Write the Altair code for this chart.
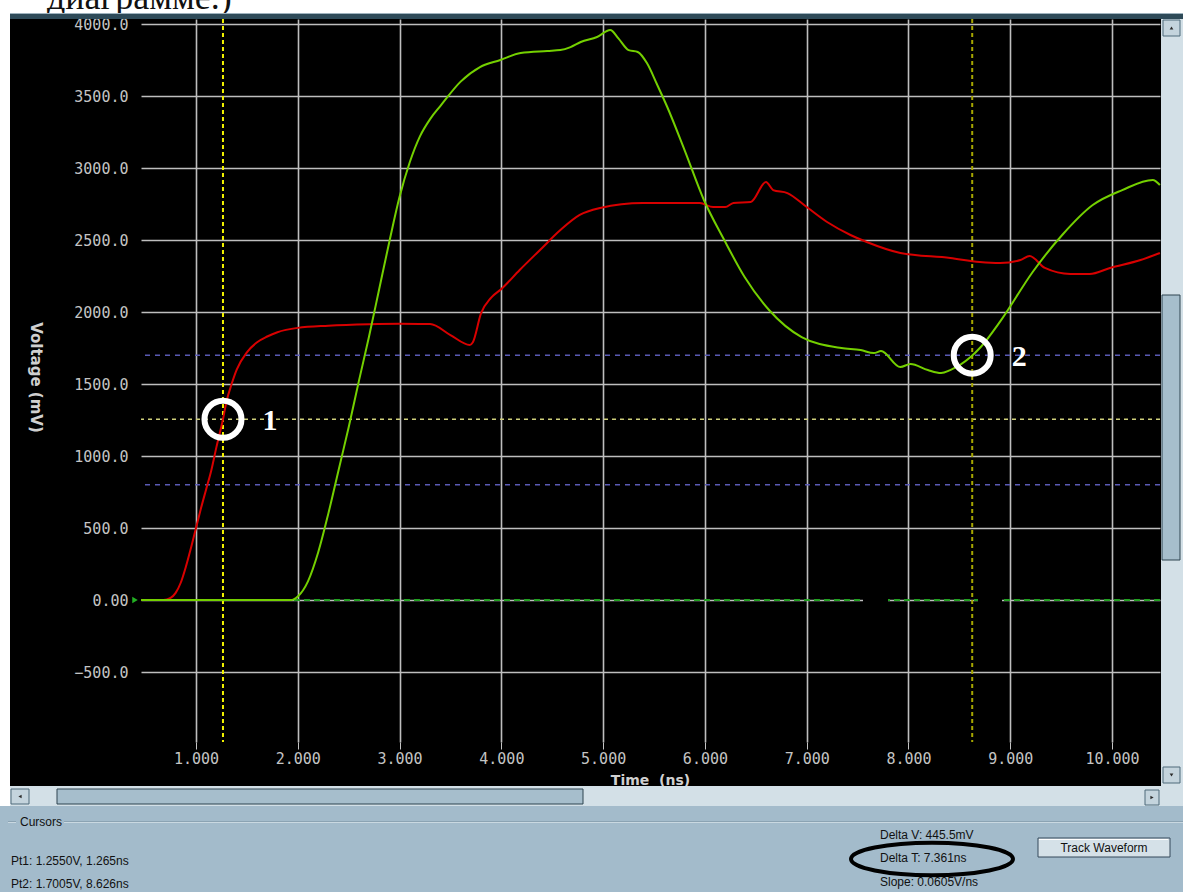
import altair as alt
import pandas as pd

# ---- waveform samples: time in ns, level in mV ----
red_t = [0.46, 0.68, 0.75, 0.8, 0.85, 0.9, 0.95, 1.0, 1.05, 1.1, 1.15, 1.2, 1.265, 1.3,
         1.35, 1.4, 1.5, 1.6, 1.7, 1.8, 2.0, 2.3, 2.7, 3.0, 3.3, 3.5, 3.69, 3.72, 3.8,
         3.9, 4.0, 4.18, 4.38, 4.58, 4.77, 4.97, 5.39, 5.95, 6.08, 6.2, 6.28, 6.45, 6.6,
         6.67, 6.81, 7.0, 7.2, 7.43, 7.59, 7.92, 8.41, 8.7, 8.9, 9.1, 9.19, 9.34, 9.59,
         9.78, 9.98, 10.28, 10.47]
red_mv = [0, 0, 15, 50, 120, 230, 360, 500, 640, 770, 900, 1060, 1255, 1380,
          1500, 1600, 1720, 1790, 1830, 1860, 1890, 1905, 1915, 1918, 1917, 1840, 1771, 1790, 1990,
          2100, 2160, 2292, 2431, 2569, 2674, 2722, 2757, 2757, 2729, 2729, 2757, 2764, 2903,
          2847, 2826, 2729, 2625, 2535, 2486, 2410, 2375, 2347, 2340, 2361, 2389, 2306, 2264,
          2264, 2306, 2361, 2410]

green_t = [0.46, 1.93, 2.0, 2.1, 2.2, 2.3, 2.4, 2.5, 2.6, 2.7, 2.8, 2.9, 3.0, 3.1,
           3.2, 3.3, 3.4, 3.6, 3.79, 3.99, 4.19, 4.45, 4.58, 4.68, 4.78, 4.94, 5.07, 5.15,
           5.25, 5.34, 5.43, 5.53, 5.63, 5.8, 5.99, 6.19, 6.39, 6.63, 6.95, 7.34, 7.53, 7.66,
           7.73, 7.92, 8.02, 8.19, 8.32, 8.41, 8.61, 8.71, 8.91, 9.22, 9.51, 9.81, 10.1,
           10.4, 10.47]
green_mv = [0, 0, 25, 130, 330, 600, 900, 1200, 1520, 1830, 2160, 2490, 2800, 3040,
            3220, 3340, 3430, 3600, 3701, 3750, 3799, 3813, 3819, 3840, 3875, 3910, 3958, 3900,
            3819, 3806, 3729, 3580, 3424, 3125, 2778, 2500, 2243, 2014, 1826, 1750, 1736, 1715,
            1729, 1618, 1639, 1597, 1576, 1597, 1687, 1757, 1944, 2278, 2535, 2743, 2847,
            2917, 2882]

# threshold levels (mV) and cursor readouts
threshold_mv = [1700, 800]
cursor_level_mv = [1255]
cursor_names = ["1", "2"]
cursor_t = [1.265, 8.626]
cursor_mv = [1255, 1700.5]

time_ticks = [1, 2, 3, 4, 5, 6, 7, 8, 9, 10]
volt_ticks = [-500, 0, 500, 1000, 1500, 2000, 2500, 3000, 3500, 4000]

readouts = ["Pt1: 1.2550V, 1.265ns", "Pt2: 1.7005V, 8.626ns"]
deltas = ["Delta V: 445.5mV", "Delta T: 7.361ns", "Slope: 0.0605V/ns"]

# ---- frame geometry ----
PAD_L, PAD_T, PAD_R, PAD_B = 141, 19, 23, 150
W, H = 1183 - PAD_L - PAD_R, 892 - PAD_T - PAD_B

X_SCALE = alt.Scale(domain=[0.4596, 10.471], nice=False, zero=False)
Y_SCALE = alt.Scale(domain=[-986, 4035], nice=False, zero=False)

GRID = "#BEBEBE"
LABEL = "#C4C4C4"
X_AXIS = alt.Axis(values=time_ticks, format=".3f", title="Time\u00a0\u00a0(ns)",
                  grid=True, gridColor=GRID, gridWidth=1.6, domain=False,
                  ticks=True, tickColor=LABEL, tickSize=7, tickWidth=1,
                  labelColor=LABEL, labelFont="DejaVu Sans Mono", labelFontSize=15,
                  labelPadding=2, labelFlush=False, labelOverlap=False,
                  titleColor="#D0D0D0", titleFont="DejaVu Sans", titleFontSize=14,
                  titleFontWeight="bold", titleX=509, titleY=38, titleAlign="center",
                  titleBaseline="middle", titleAnchor="start")
Y_AXIS = alt.Axis(values=volt_ticks,
                  labelExpr="datum.value == 0 ? '0.00' : format(datum.value, '.1f')",
                  title="Voltage (mV)", grid=True, gridColor=GRID, gridWidth=1.6,
                  domain=False, ticks=False, tickSize=0, labelPadding=13,
                  labelColor=LABEL, labelFont="DejaVu Sans Mono", labelFontSize=15,
                  labelFlush=False, labelOverlap=False,
                  titleColor="#D0D0D0", titleFont="DejaVu Sans", titleFontSize=15,
                  titleFontWeight="bold", titleAngle=90, titleX=-106, titleY=358,
                  titleAlign="center", titleBaseline="middle", titleAnchor="start")


def X(field):
    return alt.X(field, type="quantitative", scale=X_SCALE, axis=X_AXIS)


def Y(field):
    return alt.Y(field, type="quantitative", scale=Y_SCALE, axis=Y_AXIS)


ONE = alt.Data(values=[{"k": 0}])


def box(x0, y0, x1, y1, fill, stroke=None, sw=0):
    """Window-chrome rectangle in absolute page pixels."""
    kw = dict(fill=fill, strokeWidth=sw)
    if stroke:
        kw["stroke"] = stroke
    return alt.Chart(ONE).mark_rect(**kw).encode(
        x=alt.value(x0 - PAD_L), x2=alt.value(x1 - PAD_L),
        y=alt.value(y0 - PAD_T), y2=alt.value(y1 - PAD_T))


def label(x, y, text, size=12, color="#111111", font="Liberation Sans",
          align="left", weight="normal"):
    return alt.Chart(ONE).mark_text(
        fontSize=size, font=font, color=color, align=align, baseline="middle",
        fontWeight=weight).encode(
        x=alt.value(x - PAD_L), y=alt.value(y - PAD_T), text=alt.value(text))


def glyph(x, y, shape, size=22, color="#2A2A2A"):
    return alt.Chart(ONE).mark_point(shape=shape, filled=True, size=size,
                                     color=color, opacity=1).encode(
        x=alt.value(x - PAD_L), y=alt.value(y - PAD_T))


red = pd.DataFrame({"t": red_t, "mv": red_mv})
green = pd.DataFrame({"t": green_t, "mv": green_mv})
cursors = pd.DataFrame({"name": cursor_names, "t": cursor_t, "mv": cursor_mv})

# ---- page header and window frame ----
header = [
    box(0, 0, 1183, 13, "white"),
    alt.Chart(ONE).mark_text(font="Liberation Serif", fontSize=36, align="left",
                             baseline="alphabetic", color="#111111").encode(
        x=alt.value(47 - PAD_L), y=alt.value(9 - PAD_T), text=alt.value("диаграмме.)")),
    box(10, 13, 1183, 19, "#2E4A58"),
    box(10, 13, 1183, 14, "#9FB3BE"),
    box(0, 0, 10, 806, "white"),
]

# ---- reference levels and cursors ----
levels = [
    alt.Chart(pd.DataFrame({"mv": threshold_mv})).mark_rule(
        color="#5A5AB4", strokeWidth=1.5, strokeDash=[5, 5]).encode(y=Y("mv")),
    alt.Chart(pd.DataFrame({"mv": cursor_level_mv})).mark_rule(
        color="#CFCF7A", strokeWidth=1.5, strokeDash=[4, 4]).encode(y=Y("mv")),
    alt.Chart(pd.DataFrame({"mv": [0]})).mark_rule(
        color="#22A022", strokeWidth=2, strokeDash=[6, 4]).encode(y=Y("mv")),
    alt.Chart(cursors.iloc[[0]]).mark_rule(
        color="#F2F200", strokeWidth=2, strokeDash=[4, 3]).encode(x=X("t")),
    alt.Chart(cursors.iloc[[1]]).mark_rule(
        color="#A6A600", strokeWidth=2, strokeDash=[4, 3]).encode(x=X("t")),
    box(863, 596, 888, 605, "black"),
    box(978, 596, 1002, 605, "black"),
]

# ---- waveforms ----
traces = [
    alt.Chart(red).mark_line(color="#D80000", strokeWidth=2,
                             interpolate="monotone").encode(x=X("t"), y=Y("mv")),
    alt.Chart(green).mark_line(color="#74D000", strokeWidth=2,
                               interpolate="monotone").encode(x=X("t"), y=Y("mv")),
    alt.Chart(ONE).mark_point(shape="triangle-right", filled=True, size=40,
                              color="#22B022", opacity=1).encode(
        x=alt.value(-6), y=alt.value(600 - PAD_T)),
]

# ---- cursor markers ----
markers = [
    alt.Chart(cursors).mark_point(shape="circle", filled=False, size=1369,
                                  stroke="white", strokeWidth=6, opacity=1).encode(
        x=X("t"), y=Y("mv")),
    alt.Chart(cursors).mark_text(font="Liberation Serif", fontSize=30,
                                 fontWeight="bold", color="white", dx=47, dy=2,
                                 align="center", baseline="middle").encode(
        x=X("t"), y=Y("mv"), text="name:N"),
]

# ---- scrollbars ----
scroll = [
    # horizontal
    box(10, 786, 1183, 806, "#D3E0E7"),
    box(11, 789, 29, 804, "#C4D4DD", "#4F6A7A", 1),
    glyph(20, 796.5, "triangle-left", 14),
    box(57, 789, 583, 804, "#A6BECC", "#2F4550", 1),
    box(1145, 790, 1159, 805, "#C4D4DD", "#4F6A7A", 1),
    glyph(1152, 797.5, "triangle-right", 14),
    # vertical
    box(1161, 19, 1183, 786, "#D3E0E7"),
    box(1163, 20, 1180, 36, "#C4D4DD", "#4F6A7A", 1),
    glyph(1171.5, 28, "triangle-up", 14),
    box(1162, 295, 1180, 560, "#A6BECC", "#2F4550", 1),
    box(1163, 767, 1180, 783, "#C4D4DD", "#4F6A7A", 1),
    glyph(1171.5, 775, "triangle-down", 14),
]

# ---- cursor readout panel ----
ellipse_path = ("M-1,0 C-1,-0.1105 -0.5523,-0.2 0,-0.2 C0.5523,-0.2 1,-0.1105 1,0 "
                "C1,0.1105 0.5523,0.2 0,0.2 C-0.5523,0.2 -1,0.1105 -1,0 Z")
panel = [
    box(0, 806, 1183, 892, "#A3BBCB"),
    box(8, 821, 1183, 822, "#8BA3B3"),
    box(8, 822, 1183, 823, "#C9D8E1"),
    box(16, 815, 64, 830, "#A3BBCB"),
    label(20, 822, "Cursors"),
    label(11, 861, readouts[0]),
    label(11, 884, readouts[1]),
    label(880, 835, deltas[0]),
    label(880, 858, deltas[1]),
    label(880, 882, deltas[2]),
    alt.Chart(ONE).mark_point(shape=ellipse_path, filled=False, size=26244,
                              stroke="black", strokeWidth=4, opacity=1).encode(
        x=alt.value(932 - PAD_L), y=alt.value(859 - PAD_T)),
    box(1038, 838, 1170, 857, "#D5E1E8", "#34495A", 1),
    box(1039, 839, 1168, 840, "white"),
    label(1104, 847.5, "Track Waveform", align="center"),
]

chart = alt.layer(*header, *levels, *traces, *markers, *scroll, *panel).properties(
    width=W, height=H,
    padding={"left": PAD_L, "top": PAD_T, "right": PAD_R, "bottom": PAD_B},
    autosize=alt.AutoSizeParams(type="none"),
).configure(background="black").configure_view(stroke=None)

chart.save("out.html", embed_options={"renderer": "svg", "actions": False})
